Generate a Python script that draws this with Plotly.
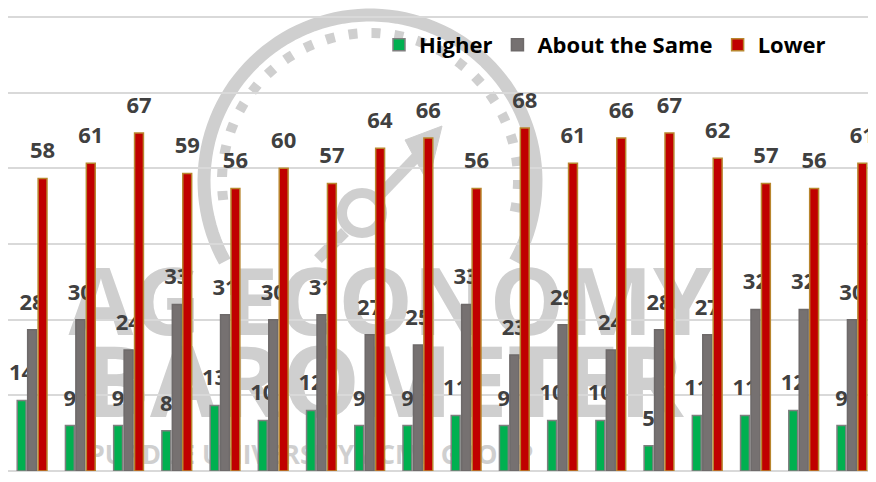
import numpy as np
import plotly.graph_objects as go

# ---- data ----
periods = [f"P{i}" for i in range(1, 19)]
higher = [14, 9, 9, 8, 13, 10, 12, 9, 9, 11, 9, 10, 10, 5, 11, 11, 12, 9]
same = [28, 30, 24, 33, 31, 30, 31, 27, 25, 33, 23, 29, 24, 28, 27, 32, 32, 30]
lower = [58, 61, 67, 59, 56, 60, 57, 64, 66, 56, 68, 61, 66, 67, 62, 57, 56, 61]
series_names = ["Higher", "About the Same", "Lower"]

# the page body has an 8px default margin, so the figure is drawn at (8, 8)
OFF = 8
W, H = 876 - OFF, 482 - OFF
ML, MR, MT, MB = 0, 0, 8, 11
PW, PH = W - ML - MR, H - MT - MB
BARGAP = 0.35
LABEL_GAP = 2.2  # data units between bar top and its label

fills = ["#00b050", "#767171", "#c00000"]
edges = ["#7f7f7f", "#6e6a6a", "#b8862e"]
label_font = dict(family="Open Sans", size=22, color="#404040", weight="bold")

fig = go.Figure()
for k, (name, vals, fc, ec) in enumerate(zip(series_names, [higher, same, lower], fills, edges)):
    fig.add_trace(go.Bar(
        x=periods, y=vals, name=name, offsetgroup=str(k),
        marker=dict(color=fc, line=dict(color=ec, width=1.5)),
        hoverinfo="x+y+name",
    ))
    # invisible spacer bar sitting on top of each bar, carrying the data label,
    # so that labels are painted under the bars of the following series
    fig.add_trace(go.Bar(
        x=periods, y=[LABEL_GAP] * len(vals), base=vals, offsetgroup=str(k),
        text=[str(v) for v in vals], textposition="outside", textangle=0,
        constraintext="none", cliponaxis=False, textfont=label_font,
        marker=dict(color="rgba(0,0,0,0)", line=dict(width=0)),
        showlegend=False, hoverinfo="skip",
    ))

# ---- watermark (background logo), positions given in window pixels ----
def px(x):
    return (x - OFF - ML) / PW
def py(y):
    return (H + OFF - MB - y) / PH

wm = "#cfcfcf"
def arc(cx, cy, r, a0, a1):
    ang = np.radians(np.linspace(a0, a1, 90))
    pts = [(px(cx + r * np.cos(a)), py(cy - r * np.sin(a))) for a in ang]
    return "M" + " L".join(f"{a:.4f},{b:.4f}" for a, b in pts)

shapes = [dict(type="path", path=arc(370, 181, 166, -29, 209), xref="paper", yref="paper",
               line=dict(color=wm, width=13), layer="below"),
          dict(type="path", path=arc(370, 181, 148, -12, 192), xref="paper", yref="paper",
               line=dict(color=wm, width=10, dash="9px,14px"), layer="below"),
          dict(type="circle", xref="paper", yref="paper",
               x0=px(342), x1=px(382), y0=py(233), y1=py(193),
               line=dict(color=wm, width=10), layer="below"),
          dict(type="path", xref="paper", yref="paper",
               path=f"M{px(318):.4f},{py(259):.4f} L{px(345):.4f},{py(232):.4f}",
               line=dict(color=wm, width=11), layer="below"),
          dict(type="path", xref="paper", yref="paper",
               path=f"M{px(377):.4f},{py(198):.4f} L{px(425):.4f},{py(148):.4f}",
               line=dict(color=wm, width=11), layer="below"),
          dict(type="path", xref="paper", yref="paper",
               path=(f"M{px(442):.4f},{py(126):.4f} L{px(405):.4f},{py(140):.4f} "
                     f"L{px(428):.4f},{py(183):.4f} Z"),
               fillcolor=wm, line=dict(color=wm, width=1), layer="below")]
for txt, xc, yc, size in [("AG ECONOMY", 390, 305, 94),
                          ("BAROMETER", 384, 386, 98),
                          ("PURDUE UNIVERSITY / CME GROUP", 311, 456, 26)]:
    shapes.append(dict(type="rect", xref="paper", yref="paper",
                       x0=px(xc - 380), x1=px(xc + 380), y0=py(yc + 40), y1=py(yc - 40),
                       line=dict(width=0), fillcolor="rgba(0,0,0,0)", layer="below",
                       label=dict(text=txt, textposition="middle center",
                                  font=dict(family="Open Sans", size=size, color=wm,
                                            weight="bold"))))

fig.update_layout(
    width=W, height=H,
    margin=dict(l=ML, r=MR, t=MT, b=MB, pad=0),
    paper_bgcolor="white", plot_bgcolor="white",
    barmode="group", bargap=BARGAP, bargroupgap=0.15,
    showlegend=True,
    legend=dict(orientation="h", x=px(379), xanchor="left", y=py(45), yanchor="middle",
                font=dict(family="Open Sans", size=22, color="#000000", weight="bold"),
                bgcolor="rgba(0,0,0,0)", traceorder="normal"),
    xaxis=dict(showticklabels=False, showgrid=False, showline=False, ticks=""),
    yaxis=dict(range=[0, 90.2], dtick=15, showticklabels=False, showgrid=True,
               gridcolor="#d9d9d9", gridwidth=1.5, zeroline=True,
               zerolinecolor="#d9d9d9", zerolinewidth=2, showline=False, ticks=""),
    shapes=shapes,
)

fig.write_html("out.html")
